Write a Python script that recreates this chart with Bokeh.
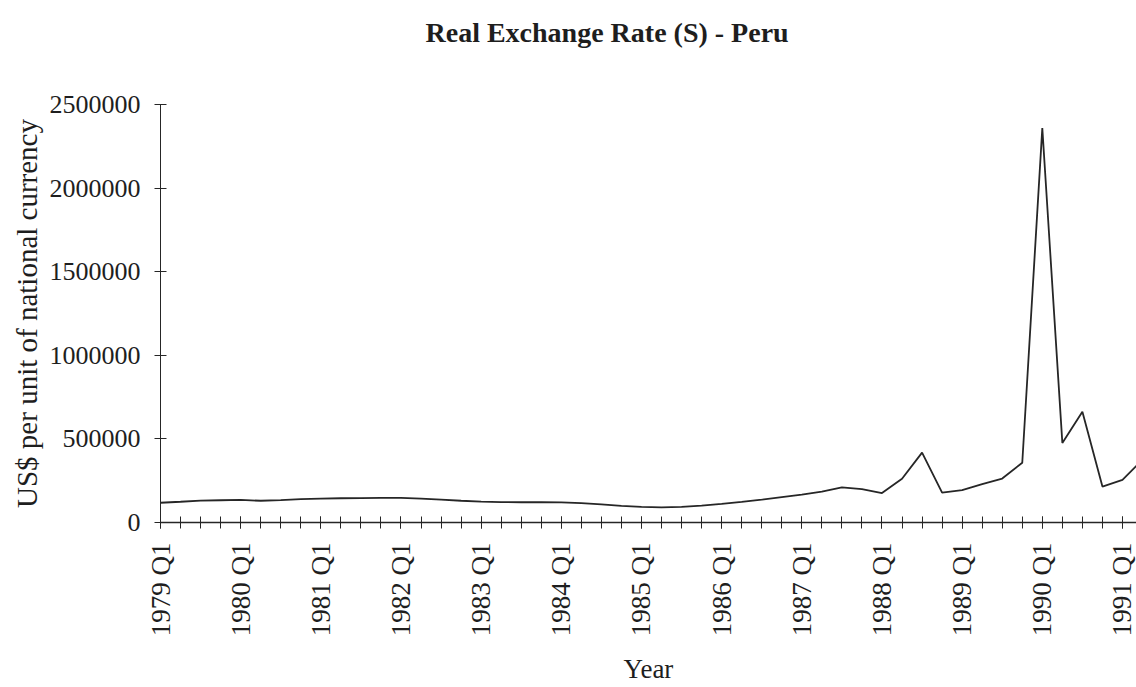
import math
from bokeh.plotting import figure
from bokeh.models import Range1d, FixedTicker, BasicTickFormatter, Title
from bokeh.embed import file_html
from bokeh.resources import INLINE

# ---- data ----
years = list(range(1979, 1992))
quarters = [f"{y} Q{q}" for y in years for q in range(1, 5)][:50]  # 1979 Q1 .. 1991 Q2
rate = [
    118000, 124000, 131000, 133000,   # 1979
    135000, 130000, 134000, 140000,   # 1980
    143000, 145000, 146000, 147000,   # 1981
    147000, 143000, 137000, 130000,   # 1982
    125000, 122000, 121000, 122000,   # 1983
    120000, 116000, 108000, 100000,   # 1984
    94000, 90000, 93000, 101000,      # 1985
    111000, 123000, 137000, 152000,   # 1986
    167000, 185000, 210000, 200000,   # 1987
    176000, 262000, 418000, 179000,   # 1988
    193000, 229000, 263000, 357000,   # 1989
    2359000, 476000, 663000, 215000,  # 1990
    255000, 375000,                   # 1991
]
y_ticks = [0, 500000, 1000000, 1500000, 2000000, 2500000]
title_text = "Real Exchange Rate (S) - Peru"

idx = list(range(len(rate)))
q1_idx = [i for i, q in enumerate(quarters) if q.endswith("Q1")]

FONT = "Liberation Serif"
TXT = "#1e1e1e"

p = figure(width=1136, height=687, output_backend="svg", toolbar_location=None,
           x_range=Range1d(0, 48.7), y_range=Range1d(0, 2500000),
           min_border_left=160, min_border_right=0, min_border_top=0, min_border_bottom=0)

p.line(idx, rate, line_color="#262626", line_width=1.8)

# the real title (outermost)
p.title.text = title_text
p.title.text_font = FONT
p.title.text_font_size = "28px"
p.title.text_font_style = "bold"
p.title.text_color = TXT
p.title.align = "left"
p.title.offset = 265
p.title.standoff = 29

# blank spacer title next to the frame
p.add_layout(Title(text=" ", text_font=FONT, text_font_size="28px", standoff=9), "above")

p.outline_line_color = None
p.xgrid.grid_line_color = None
p.ygrid.grid_line_color = None
p.background_fill_color = "white"
p.border_fill_color = "white"

xa = p.xaxis[0]
xa.ticker = FixedTicker(ticks=q1_idx, minor_ticks=idx)
xa.major_label_overrides = {i: quarters[i] for i in q1_idx}
xa.major_label_orientation = math.pi / 2
xa.major_label_text_font = FONT
xa.major_label_text_font_size = "27px"
xa.major_label_text_color = TXT
xa.major_label_standoff = 14
xa.major_tick_in = 6
xa.major_tick_out = 6
xa.minor_tick_in = 6
xa.minor_tick_out = 6
xa.axis_line_color = "#262626"
xa.major_tick_line_color = "#262626"
xa.minor_tick_line_color = "#262626"
xa.axis_line_width = 1.5
xa.axis_label = "Year"
xa.axis_label_text_font = FONT
xa.axis_label_text_font_size = "27px"
xa.axis_label_text_font_style = "normal"
xa.axis_label_text_color = TXT
xa.axis_label_standoff = 15

ya = p.yaxis[0]
ya.ticker = FixedTicker(ticks=y_ticks)
ya.formatter = BasicTickFormatter(use_scientific=False)
ya.major_label_text_font = FONT
ya.major_label_text_font_size = "26px"
ya.major_label_text_color = TXT
ya.major_label_standoff = 14
ya.major_tick_in = 6
ya.major_tick_out = 6
ya.minor_tick_line_color = None
ya.axis_line_color = "#262626"
ya.major_tick_line_color = "#262626"
ya.axis_label = "US$ per unit of national currency"
ya.axis_label_text_font = FONT
ya.axis_label_text_font_size = "29px"
ya.axis_label_text_font_style = "normal"
ya.axis_label_text_color = TXT
ya.axis_label_standoff = 4

open("out.html", "w").write(file_html(p, INLINE))
